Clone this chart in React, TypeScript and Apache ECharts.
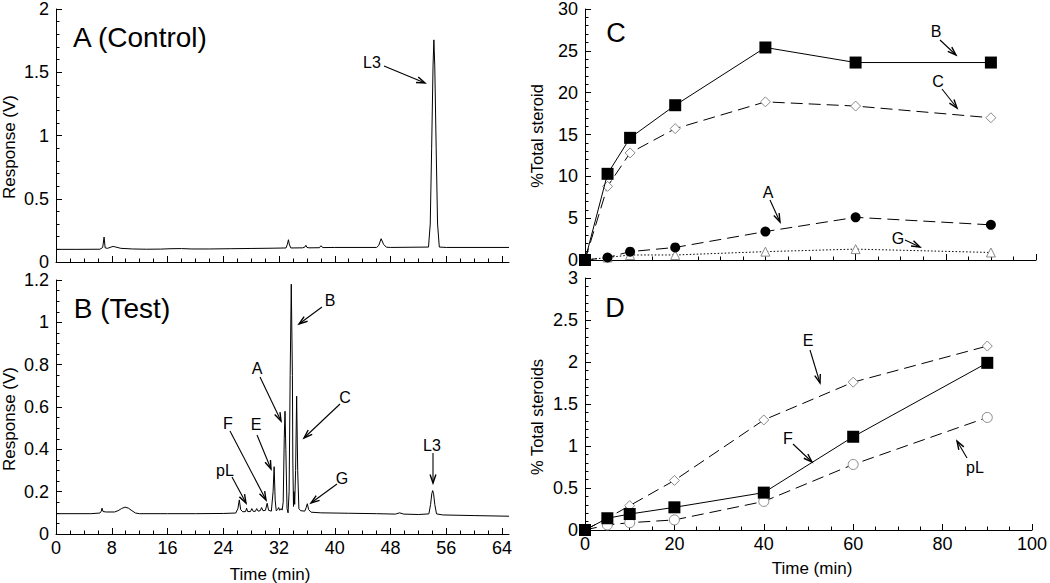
import React, { useEffect, useRef } from 'react';
import * as echarts from 'echarts';

// ---- Chromatogram traces [time (min), response (V)] ----
const controlTrace: [number, number][] = [
  [0, 0.100], [3, 0.100], [6.3, 0.101], [6.7, 0.115], [6.9, 0.197], [7.05, 0.112], [7.4, 0.108],
  [7.9, 0.118], [8.2, 0.123], [8.6, 0.118], [9.3, 0.108], [11, 0.103], [13, 0.101], [15, 0.102],
  [16.5, 0.105], [18, 0.106], [19.5, 0.103], [22, 0.103], [25, 0.105], [28, 0.107], [31, 0.109],
  [33.0, 0.111], [33.2, 0.14], [33.35, 0.176], [33.5, 0.135], [33.7, 0.111], [35.4, 0.112],
  [35.7, 0.118], [35.85, 0.132], [36.0, 0.116], [36.3, 0.112], [37.8, 0.113], [38.0, 0.128],
  [38.3, 0.114], [40, 0.115], [46.0, 0.115], [46.3, 0.13], [46.65, 0.184], [47.0, 0.14],
  [47.4, 0.117], [48, 0.115], [53.45, 0.118], [53.7, 0.3], [53.9, 0.9], [54.1, 1.55],
  [54.22, 1.756], [54.35, 1.55], [54.55, 0.9], [54.75, 0.3], [55.0, 0.118], [56, 0.115], [65, 0.115],
];

const testTrace: [number, number][] = [
  [0, 0.096], [5, 0.096], [6.3, 0.099], [6.5, 0.108], [6.6, 0.122], [6.75, 0.106], [7.2, 0.104],
  [8.4, 0.104], [8.9, 0.11], [9.4, 0.12], [9.9, 0.127], [10.4, 0.122], [10.9, 0.11], [11.4, 0.099],
  [12, 0.096], [16, 0.096], [20, 0.096], [24, 0.097], [25.8, 0.099], [26.1, 0.12], [26.3, 0.161],
  [26.5, 0.115], [26.8, 0.105], [27.2, 0.106], [27.35, 0.122], [27.5, 0.106], [27.9, 0.106],
  [28.1, 0.12], [28.3, 0.107], [28.6, 0.107], [28.8, 0.12], [29.0, 0.108], [29.3, 0.11],
  [29.5, 0.125], [29.7, 0.11], [30.05, 0.112], [30.3, 0.145], [30.5, 0.112], [30.9, 0.108],
  [31.15, 0.2], [31.3, 0.318], [31.45, 0.16], [31.6, 0.11], [31.8, 0.115], [31.95, 0.125],
  [32.1, 0.112], [32.3, 0.12], [32.45, 0.113], [32.6, 0.15], [32.75, 0.45], [32.86, 0.58],
  [32.98, 0.4], [33.15, 0.12], [33.3, 0.1], [33.45, 0.2], [33.6, 0.75], [33.76, 1.18],
  [33.92, 0.75], [33.98, 0.35], [34.08, 0.13], [34.15, 0.2], [34.25, 0.14], [34.38, 0.3],
  [34.53, 0.651], [34.68, 0.3], [34.85, 0.12], [35.1, 0.11], [35.7, 0.108], [35.9, 0.125],
  [36.06, 0.143], [36.25, 0.115], [36.6, 0.103], [38, 0.1], [42, 0.098], [46, 0.096],
  [48.7, 0.094], [49.3, 0.1], [49.9, 0.094], [52, 0.092], [53.5, 0.095], [53.75, 0.14],
  [53.92, 0.19], [54.05, 0.205], [54.18, 0.19], [54.35, 0.14], [54.6, 0.095], [55.5, 0.09],
  [60, 0.087], [65, 0.084],
];

// ---- Time course (min) and % total steroid ----
const timeMin = [0, 5, 10, 20, 40, 60, 90];
const steroidB = [0, 10.3, 14.6, 18.5, 25.4, 23.6, 23.6];
const steroidC = [0, 8.8, 12.8, 15.7, 18.9, 18.4, 17.0];
const steroidA = [0, 0.3, 1.0, 1.5, 3.4, 5.1, 4.2];
const steroidG = [0, 0.3, 0.6, 0.6, 1.0, 1.3, 0.9];
const steroidE = [0, 0.14, 0.29, 0.59, 1.31, 1.76, 2.19];
const steroidF = [0, 0.14, 0.19, 0.27, 0.445, 1.11, 1.99];
const steroidPL = [0, 0.06, 0.087, 0.12, 0.34, 0.78, 1.34];

// ---- Tick values for chromatogram time axes ----
const chromMajorTicks = [0, 8, 16, 24, 32, 40, 48, 56, 64];
const chromMinorTicks = [2, 4, 6, 10, 12, 14, 18, 20, 22, 26, 28, 30, 34, 36, 38, 42, 44, 46, 50, 52, 54, 58, 60, 62];

const FONT = "'Liberation Sans', Arial, Helvetica, sans-serif";
const BLACK = '#000';
const GRAY = '#8a8a8a';

function pairs(xs: number[], ys: number[]) {
  return xs.map((x, i) => [x, ys[i]]);
}

function arrow(x1: number, y1: number, x2: number, y2: number) {
  const ang = Math.atan2(y2 - y1, x2 - x1);
  const len = 9;
  const spread = 0.33;
  const p1 = [x2 - len * Math.cos(ang - spread), y2 - len * Math.sin(ang - spread)];
  const p2 = [x2 - len * Math.cos(ang + spread), y2 - len * Math.sin(ang + spread)];
  return [
    { type: 'line', shape: { x1, y1, x2, y2 }, style: { stroke: BLACK, lineWidth: 1.1 } },
    { type: 'polyline', shape: { points: [p1, [x2, y2], p2] }, style: { stroke: BLACK, lineWidth: 1.4, fill: null } },
  ];
}

function label(text: string, x: number, y: number, size = 16, rotation = 0) {
  return {
    type: 'text',
    x,
    y,
    rotation,
    style: {
      text,
      fill: BLACK,
      font: `${size}px ${FONT}`,
      textAlign: 'center',
      textVerticalAlign: 'middle',
    },
  };
}

const axisLineStyle = { lineStyle: { color: BLACK, width: 1 } };

function chromXAxes(gridIndex: number, showLabels: boolean) {
  return [
    {
      type: 'value', gridIndex, position: 'bottom', min: 0, max: 65, interval: 8,
      axisLine: { show: true, onZero: false, ...axisLineStyle },
      axisTick: { show: true, inside: true, length: 6, customValues: chromMajorTicks, lineStyle: { color: BLACK } },
      axisLabel: {
        show: showLabels, customValues: chromMajorTicks, margin: 5,
        color: BLACK, fontSize: 18, fontFamily: FONT,
      },
      splitLine: { show: false },
    },
    {
      type: 'value', gridIndex, position: 'bottom', min: 0, max: 65, interval: 2,
      axisLine: { show: false },
      axisTick: { show: true, inside: true, length: 3.5, customValues: chromMinorTicks, lineStyle: { color: BLACK } },
      axisLabel: { show: false },
      splitLine: { show: false },
    },
  ];
}

function valueYAxis(gridIndex: number, max: number, interval: number, split: number) {
  return {
    type: 'value', gridIndex, min: 0, max, interval,
    axisLine: { show: true, onZero: false, ...axisLineStyle },
    axisTick: { show: true, inside: true, length: 6, lineStyle: { color: BLACK } },
    minorTick: { show: true, splitNumber: split, length: 3.5, lineStyle: { color: BLACK } },
    axisLabel: { color: BLACK, fontSize: 18, fontFamily: FONT, margin: 7 },
    splitLine: { show: false },
  };
}

function timeXAxis(gridIndex: number, showLabels: boolean) {
  return {
    type: 'value', gridIndex, position: 'bottom', min: 0, max: 100, interval: 20,
    axisLine: { show: true, onZero: false, ...axisLineStyle },
    axisTick: { show: true, inside: true, length: 6, lineStyle: { color: BLACK } },
    minorTick: { show: true, splitNumber: 4, length: 3.5, lineStyle: { color: BLACK } },
    axisLabel: { show: showLabels, color: BLACK, fontSize: 18, fontFamily: FONT, margin: 5 },
    splitLine: { show: false },
  };
}

function pointSeries(name: string, xAxisIndex: number, yAxisIndex: number, ys: number[], opts: any) {
  return {
    name, type: 'line', xAxisIndex, yAxisIndex,
    data: pairs(timeMin, ys),
    symbol: opts.symbol, symbolSize: opts.size, showSymbol: true,
    itemStyle: opts.filled
      ? { color: BLACK, borderColor: BLACK, borderWidth: 0 }
      : { color: '#fff', borderColor: GRAY, borderWidth: 1 },
    lineStyle: { color: BLACK, width: 1, type: opts.dash },
    z: opts.z ?? 2,
  };
}

export default function App() {
  const ref = useRef<HTMLDivElement>(null);

  useEffect(() => {
    if (!ref.current) return;
    const chart = echarts.init(ref.current, undefined, { renderer: 'svg' });

    const dash = [12, 6];
    const dot = [1.5, 2];

    const graphic: any[] = [
      // axis titles
      label('Response (V)', 9, 147, 17, Math.PI / 2),
      label('Response (V)', 9, 419, 17, Math.PI / 2),
      label('%Total steroid', 537, 136, 16.5, Math.PI / 2),
      label('% Total steroids', 537, 417, 16.5, Math.PI / 2),
      label('Time (min)', 270, 574, 17),
      label('Time (min)', 812, 568, 17),
      // panel titles
      label('A (Control)', 140, 37, 28),
      label('B (Test)', 122, 308, 28),
      label('C', 616, 33, 27),
      label('D', 615, 308, 27),
      // Panel A
      label('L3', 372, 62),
      ...arrow(384, 66, 425, 83),
      // Panel B
      label('B', 330, 300),
      ...arrow(322, 307, 299, 324),
      label('A', 257, 368),
      ...arrow(260, 377, 281, 421),
      label('C', 345, 397),
      ...arrow(340, 404, 304, 438),
      label('F', 228, 423),
      ...arrow(230, 431, 266, 500),
      label('E', 256, 424),
      ...arrow(257, 435, 271, 469),
      label('pL', 225, 470),
      ...arrow(232, 477, 246, 503),
      label('G', 342, 478),
      ...arrow(337, 484, 311, 503),
      label('L3', 432, 445),
      ...arrow(433, 453, 433, 483),
      // Panel C
      label('B', 936, 31),
      ...arrow(940, 40, 956, 55),
      label('C', 938, 81),
      ...arrow(942, 89, 957, 108),
      label('A', 768, 192),
      ...arrow(770, 200, 780, 222),
      label('G', 898, 238),
      ...arrow(905, 240, 920, 247),
      // Panel D
      label('E', 808, 340),
      ...arrow(810, 350, 820, 383),
      label('F', 788, 438),
      ...arrow(793, 444, 812, 462),
      label('pL', 975, 467),
      ...arrow(967, 458, 957, 441),
    ];

    chart.setOption({
      animation: false,
      backgroundColor: '#fff',
      textStyle: { fontFamily: FONT },
      grid: [
        { left: 56, top: 8, width: 453, height: 254 },
        { left: 56, top: 280, width: 453, height: 254 },
        { left: 585, top: 8, width: 451, height: 252 },
        { left: 585, top: 278, width: 451, height: 252 },
      ],
      xAxis: [
        ...chromXAxes(0, false),
        ...chromXAxes(1, true),
        timeXAxis(2, false),
        timeXAxis(3, true),
      ],
      yAxis: [
        valueYAxis(0, 2, 0.5, 5),
        valueYAxis(1, 1.2, 0.2, 4),
        valueYAxis(2, 30, 5, 5),
        valueYAxis(3, 3, 0.5, 5),
      ],
      series: [
        {
          name: 'Control', type: 'line', xAxisIndex: 0, yAxisIndex: 0, data: controlTrace,
          showSymbol: false, symbol: 'none', lineStyle: { color: BLACK, width: 1 },
        },
        {
          name: 'Test', type: 'line', xAxisIndex: 2, yAxisIndex: 1, data: testTrace,
          showSymbol: false, symbol: 'none', lineStyle: { color: BLACK, width: 1 },
        },
        pointSeries('G', 4, 2, steroidG, { symbol: 'triangle', size: 9, filled: false, dash: dot }),
        pointSeries('A', 4, 2, steroidA, { symbol: 'circle', size: 10, filled: true, dash }),
        pointSeries('C', 4, 2, steroidC, { symbol: 'diamond', size: 10, filled: false, dash }),
        pointSeries('B', 4, 2, steroidB, { symbol: 'rect', size: 12, filled: true, dash: 'solid', z: 3 }),
        pointSeries('pL', 5, 3, steroidPL, { symbol: 'circle', size: 10, filled: false, dash }),
        pointSeries('E', 5, 3, steroidE, { symbol: 'diamond', size: 10, filled: false, dash }),
        pointSeries('F', 5, 3, steroidF, { symbol: 'rect', size: 12, filled: true, dash: 'solid', z: 3 }),
      ],
      graphic,
    });

    return () => chart.dispose();
  }, []);

  return (
    <div
      ref={ref}
      style={{ position: 'fixed', left: 0, top: 0, width: 1050, height: 583, background: '#fff' }}
    />
  );
}
